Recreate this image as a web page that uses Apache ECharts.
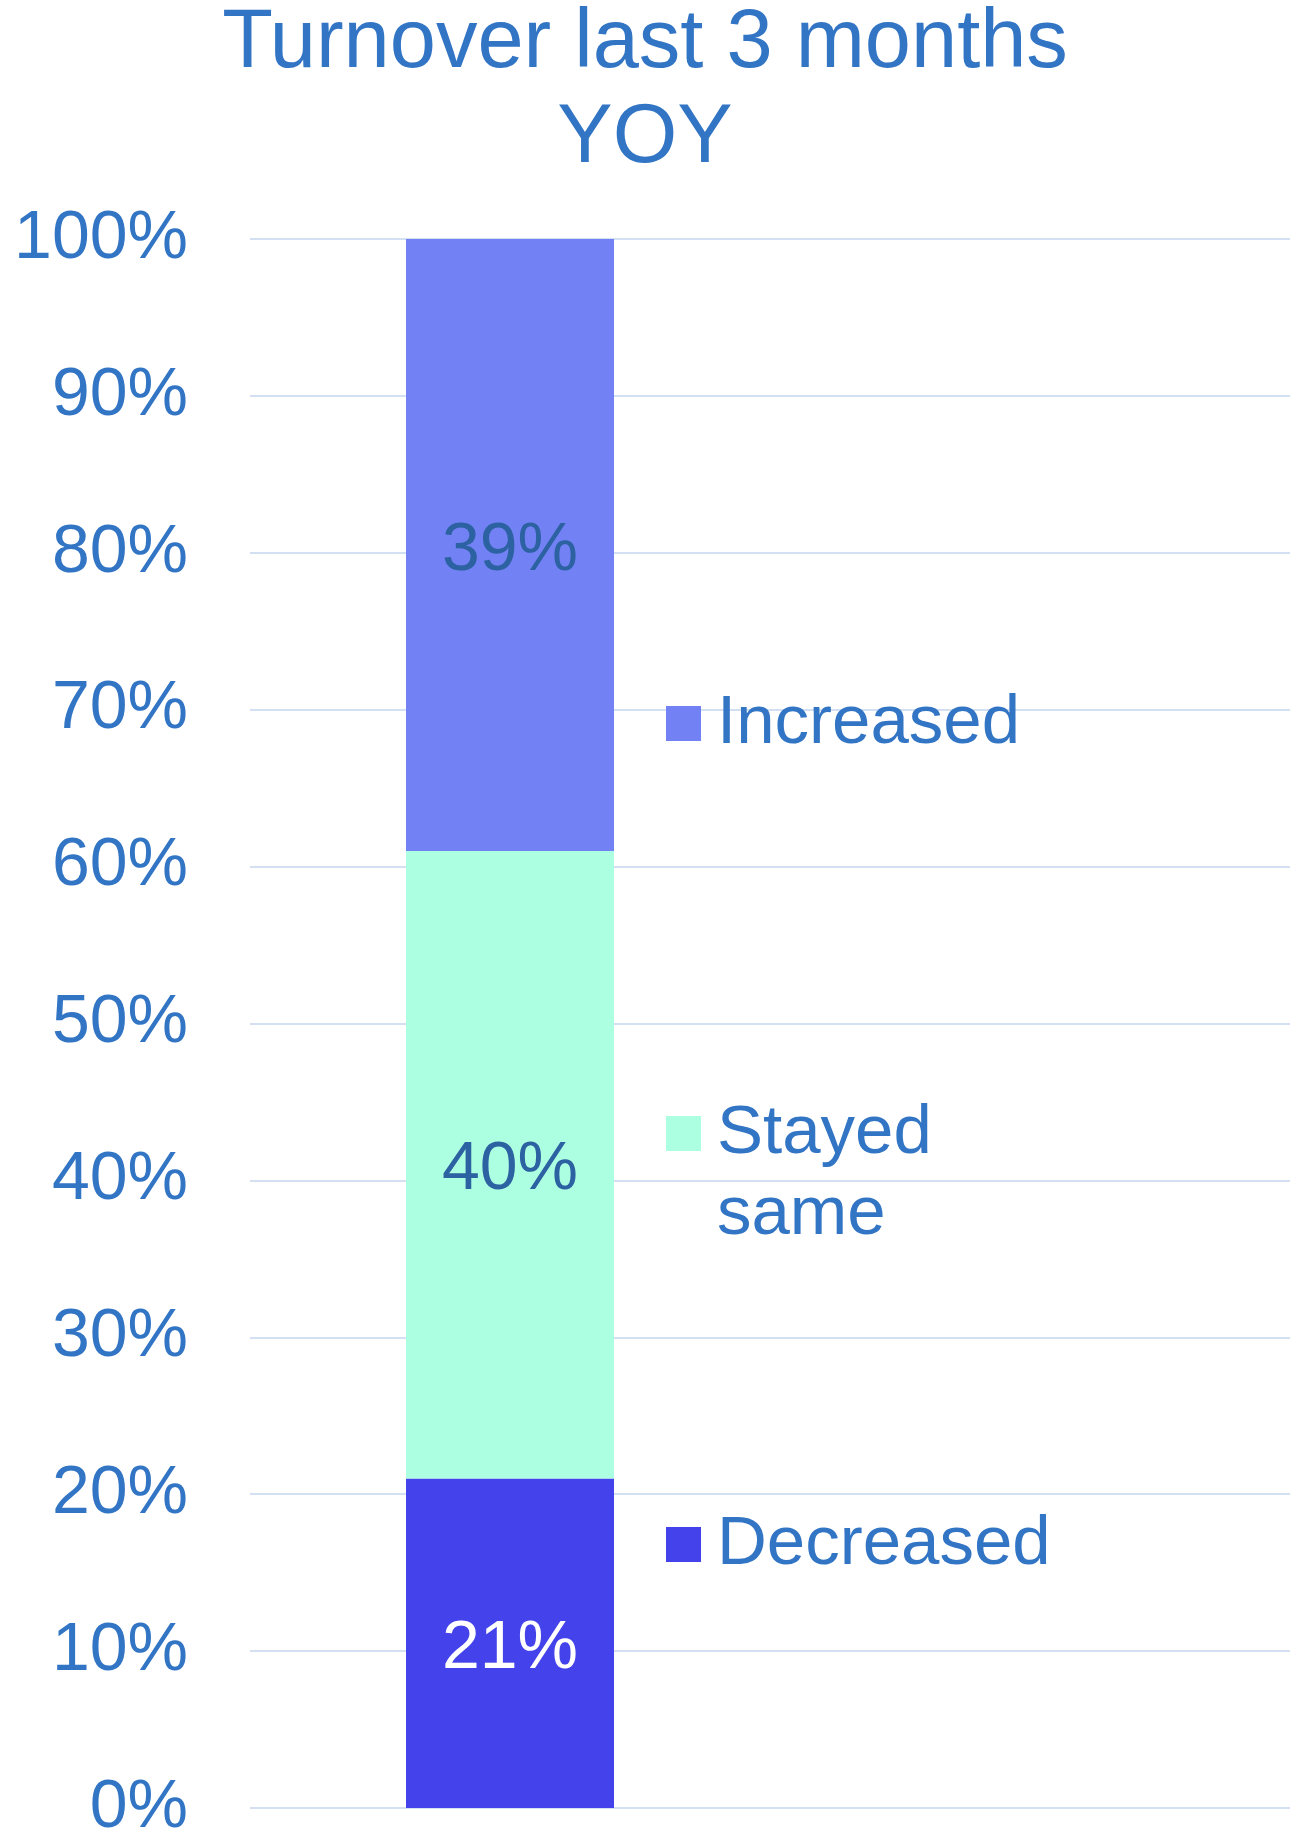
<!DOCTYPE html>
<html>
<head>
<meta charset="utf-8">
<script src="https://cdn.jsdelivr.net/npm/echarts@6/dist/echarts.min.js"></script>
<style>
html,body{margin:0;padding:0;background:#fff;}
#chart{width:1290px;height:1836px;}
</style>
</head>
<body>
<div id="chart"></div>
<script>
// ---- data ----
var titleText = 'Turnover last 3 months\nYOY';
var categories = ['Turnover last 3 months YOY'];
var seriesNames = ['Decreased', 'Stayed same', 'Increased'];
var decreased = [21];
var stayedSame = [40];
var increased = [39];
var yTicks = [0, 10, 20, 30, 40, 50, 60, 70, 80, 90, 100];

var FONT = '"Liberation Sans", Arial, sans-serif';
var TEXT = '#3375C5';
var colors = { 'Decreased': '#4442EA', 'Stayed same': '#ADFFE2', 'Increased': '#7282F5' };
var labelColors = { 'Decreased': '#FFFFFF', 'Stayed same': '#2C62A2', 'Increased': '#2C62A2' };
var values = { 'Decreased': decreased, 'Stayed same': stayedSame, 'Increased': increased };

var chart = echarts.init(document.getElementById('chart'), null, { renderer: 'canvas' });

function legendFor(name, top, formatter) {
  var lg = {
    data: [name],
    orient: 'vertical',
    left: 666,
    top: top,
    padding: 0,
    itemWidth: 35,
    itemHeight: 35,
    icon: 'rect',
    selectedMode: false,
    textStyle: {
      fontFamily: FONT,
      fontSize: 69,
      color: TEXT,
      lineHeight: 81,
      padding: [0, 0, 0, 11]
    }
  };
  if (formatter) lg.formatter = formatter;
  return lg;
}

var option = {
  backgroundColor: '#ffffff',
  animation: false,
  title: {
    text: titleText,
    left: 'center',
    top: -3,
    padding: [0, 0, 0, 10],
    textStyle: {
      fontFamily: FONT,
      fontSize: 83,
      fontWeight: 'normal',
      color: TEXT,
      lineHeight: 95
    }
  },
  legend: [
    legendFor('Increased', 683),
    legendFor('Stayed same', 1012, function (n) { return '\n' + n.replace(' ', '\n'); }),
    legendFor('Decreased', 1504)
  ],
  grid: { left: 250, right: 0, top: 239, bottom: 1836 - 1808, containLabel: false, outerBoundsMode: 'none' },
  xAxis: {
    type: 'category',
    data: categories,
    max: 1,
    axisLine: { show: false },
    axisTick: { show: false },
    axisLabel: { show: false },
    splitLine: { show: false }
  },
  yAxis: {
    type: 'value',
    min: yTicks[0],
    max: yTicks[yTicks.length - 1],
    interval: yTicks[1] - yTicks[0],
    axisLine: { show: false },
    axisTick: { show: false },
    axisLabel: {
      formatter: '{value}%',
      fontFamily: FONT,
      fontSize: 68,
      color: TEXT,
      margin: 62,
      padding: [8, 0, 0, 0]
    },
    splitLine: { show: true, lineStyle: { color: '#D2E0F2', width: 2 } }
  },
  series: seriesNames.map(function (name) {
    return {
      name: name,
      type: 'bar',
      stack: 'total',
      barWidth: '40%',
      data: values[name],
      itemStyle: { color: colors[name] },
      label: {
        show: true,
        position: 'inside',
        offset: [0, 6],
        formatter: '{c}%',
        fontFamily: FONT,
        fontSize: 68,
        color: labelColors[name],
        textBorderWidth: 0
      }
    };
  })
};

chart.setOption(option);
</script>
</body>
</html>
